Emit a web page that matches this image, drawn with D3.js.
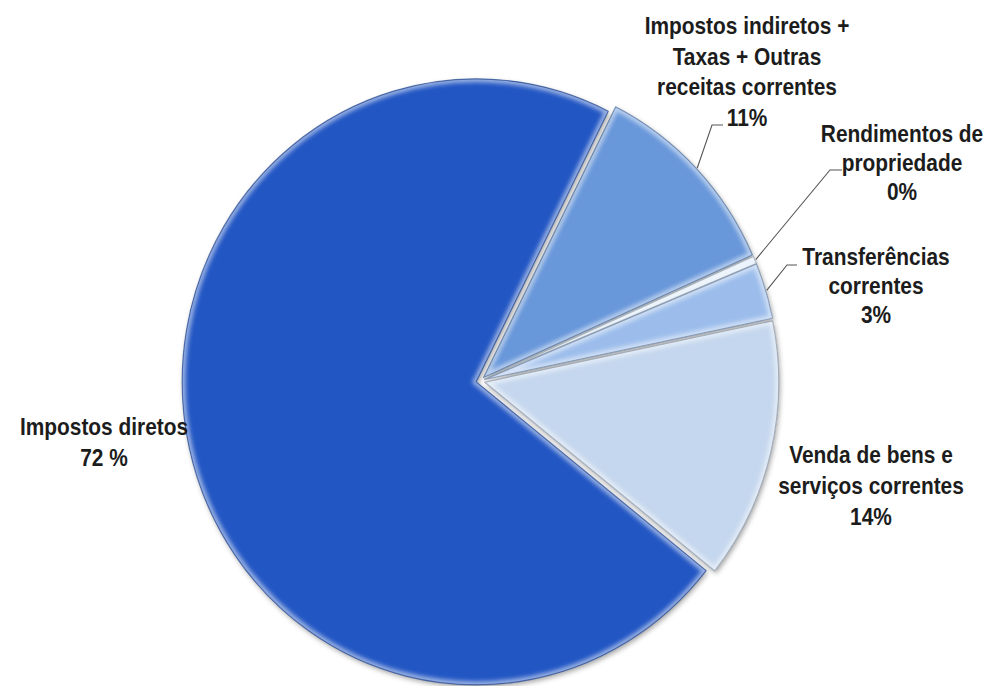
<!DOCTYPE html>
<html>
<head>
<meta charset="utf-8">
<script src="https://cdn.jsdelivr.net/npm/d3@7"></script>
<style>
  html, body { margin: 0; padding: 0; background: #fff; }
  .lbl { font-family: "Liberation Sans Narrow", "Arial Narrow", "Liberation Sans", sans-serif; font-weight: bold; font-size: 24px; fill: #1c1c1c; }
</style>
</head>
<body>
<div id="chart"></div>
<script>
// data
var categories = ["Impostos diretos", "Impostos indiretos + Taxas + Outras receitas correntes",
                  "Rendimentos de propriedade", "Transferências correntes", "Venda de bens e serviços correntes"];
var values = [72, 11, 0.4, 3, 14];
var pctLabels = ["72 %", "11%", "0%", "3%", "14%"];
var labelLines = [
    ["Impostos diretos"],
    ["Impostos indiretos +", "Taxas + Outras", "receitas correntes"],
    ["Rendimentos de", "propriedade"],
    ["Transferências", "correntes"],
    ["Venda de bens e", "serviços correntes"]
];
var colors = ["#2156c3", "#6797da", "#d6e6f8", "#9cbdeb", "#c5d7ee"];

// layout
var width = 994, height = 686;
var cx = 480, cy = 381, radius = 300;
var sx = 0.98, sy = 1.01;   // the original pie is slightly taller than wide
var squeeze = 0.87;         // narrow font look
var explode = [4, 5, 5, 5, 5];
// label anchor (center x, first baseline, line gap)
var labelPos = [[104, 435, 31], [747, 34, 30.7], [902, 142, 29], [876, 265, 29], [871, 463, 31]];
var hasLeader = [false, true, true, true, false];
var leaderStart = [null, [723, 125, 712], [842, 170, 830], [797, 265, 787], null];

var svg = d3.select("#chart").append("svg")
    .attr("width", width)
    .attr("height", height);

var defs = svg.append("defs");
var shadow = defs.append("filter").attr("id", "shadow")
    .attr("x", "-10%").attr("y", "-10%").attr("width", "120%").attr("height", "120%");
shadow.append("feDropShadow")
    .attr("dx", 1.5).attr("dy", 2.5).attr("stdDeviation", 2.5)
    .attr("flood-color", "#000").attr("flood-opacity", 0.35);
var blur = defs.append("filter").attr("id", "soft");
blur.append("feGaussianBlur").attr("stdDeviation", 2);

// pie in order clockwise from the top edge of the big slice
var order = [1, 2, 3, 4, 0];
var pie = d3.pie().sort(null).value(d => values[d])
    .startAngle(26.7 * Math.PI / 180)
    .endAngle(26.7 * Math.PI / 180 + 2 * Math.PI);
var arcs = pie(order);

var arc = d3.arc().innerRadius(0).outerRadius(radius);
var edgeArc = d3.arc().innerRadius(radius + 1).outerRadius(radius + 1);

var g = svg.append("g").attr("transform", `translate(${cx}, ${cy}) scale(${sx}, ${sy})`);

arcs.forEach(function(a) {
    var i = a.data;
    var mid = (a.startAngle + a.endAngle) / 2;
    var ox = Math.sin(mid) * explode[i], oy = -Math.cos(mid) * explode[i];
    a.ox = ox; a.oy = oy;

    var sg = g.append("g").attr("transform", `translate(${ox}, ${oy})`);
    defs.append("clipPath").attr("id", "clip" + i)
        .append("path").attr("d", arc(a));

    sg.append("path")
        .attr("d", arc(a))
        .attr("fill", colors[i])
        .attr("filter", "url(#shadow)");

    // bevel: light inner rim + dark outer edge
    sg.append("path")
        .attr("d", arc(a))
        .attr("fill", "none")
        .attr("stroke", "#ffffff")
        .attr("stroke-opacity", 0.55)
        .attr("stroke-width", 7)
        .attr("filter", "url(#soft)")
        .attr("clip-path", "url(#clip" + i + ")");
    sg.append("path")
        .attr("d", arc(a))
        .attr("fill", "none")
        .attr("stroke", d3.color(colors[i]).darker(1.2))
        .attr("stroke-opacity", 0.6)
        .attr("stroke-width", 1.2)
        .attr("stroke-linejoin", "round");
});

// leader lines
arcs.forEach(function(a) {
    var i = a.data;
    if (!hasLeader[i]) return;
    var p = edgeArc.centroid(a);
    var ex = cx + (p[0] + a.ox) * sx, ey = cy + (p[1] + a.oy) * sy;
    var s = leaderStart[i];
    svg.append("polyline")
        .attr("points", `${s[0]},${s[1]} ${s[2]},${s[1]} ${ex},${ey}`)
        .attr("fill", "none")
        .attr("stroke", "#555")
        .attr("stroke-width", 1.1);
});

// labels
categories.forEach(function(c, i) {
    var lp = labelPos[i];
    var lines = labelLines[i].concat([pctLabels[i]]);
    var t = svg.append("text").attr("class", "lbl").attr("text-anchor", "middle")
        .attr("transform", `translate(${lp[0]}, 0) scale(${squeeze}, 1)`);
    lines.forEach(function(l, k) {
        t.append("tspan").attr("x", 0).attr("y", lp[1] + k * lp[2]).text(l);
    });
});
</script>
</body>
</html>
